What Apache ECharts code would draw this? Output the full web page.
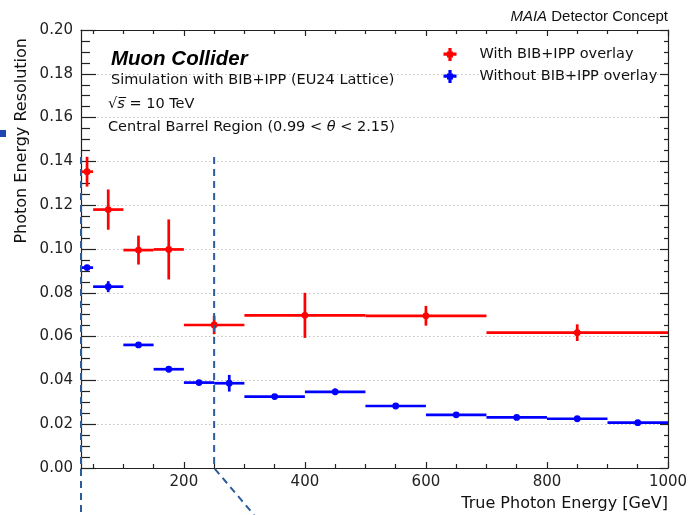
<!DOCTYPE html>
<html>
<head>
<meta charset="utf-8">
<script src="https://cdn.jsdelivr.net/npm/echarts@6/dist/echarts.min.js"></script>
<style>
  html, body { margin: 0; padding: 0; background: #fff; }
  #chart { width: 693px; height: 515px; }
</style>
</head>
<body>
<div id="chart"></div>
<script>
// Photon energy resolution vs. true photon energy, central barrel

// With BIB+IPP overlay (variable-width bins)
const withBinLo  = [30, 50, 100, 150, 200, 300, 500, 700];
const withBinHi  = [50, 100, 150, 200, 300, 500, 700, 1000];
const withCenter = [40, 75, 125, 175, 250, 400, 600, 850];
const withRes    = [0.1353, 0.1180, 0.0995, 0.0998, 0.0653, 0.0697, 0.0695, 0.0618];
const withErr    = [0.0068, 0.0092, 0.0066, 0.0137, 0.0042, 0.0103, 0.0045, 0.0038];

// Without BIB+IPP overlay
const noBinLo  = [30, 50, 100, 150, 200, 250, 300, 400, 500, 600, 700, 800, 900];
const noBinHi  = [50, 100, 150, 200, 250, 300, 400, 500, 600, 700, 800, 900, 1000];
const noCenter = [40, 75, 125, 175, 225, 275, 350, 450, 550, 650, 750, 850, 950];
const noRes    = [0.0915, 0.0828, 0.0562, 0.0451, 0.0390, 0.0387, 0.0326, 0.0348, 0.0283, 0.0243, 0.0231, 0.0225, 0.0207];
const noErr    = [0.0010, 0.0025, 0.0010, 0.0008, 0.0008, 0.0038, 0.0008, 0.0015, 0.0008, 0.0006, 0.0006, 0.0006, 0.0006];

// Axis ranges and tick values
const xRange = [30, 1000];
const yRange = [0, 0.20];
const yStep = 0.02;
const xMajorTicks = [200, 400, 600, 800, 1000];
const xMinorTicks = [50, 100, 150, 250, 300, 350, 450, 500, 550, 650, 700, 750, 850, 900, 950];

// Energy window highlighted by the dashed guides
const insetRange = [30, 250];
const insetTop = 0.142;

const seriesNames = ['With BIB+IPP overlay', 'Without BIB+IPP overlay'];

const FONT = 'DejaVu Sans';
const AXIS_COLOR = '#222';

function buildRows(center, res, lo, hi, err) {
  return center.map((c, i) => [c, res[i], lo[i], hi[i], err[i]]);
}

function errorBarItem(color) {
  return function (params, api) {
    const x = api.value(0), y = api.value(1);
    const lo = api.value(2), hi = api.value(3), e = api.value(4);
    const c = api.coord([x, y]);
    const pl = api.coord([lo, y]);
    const ph = api.coord([hi, y]);
    const pu = api.coord([x, y + e]);
    const pd = api.coord([x, y - e]);
    const ls = { stroke: color, lineWidth: 2.7 };
    return {
      type: 'group',
      children: [
        { type: 'line', shape: { x1: pl[0], y1: pl[1], x2: ph[0], y2: ph[1] }, style: ls },
        { type: 'line', shape: { x1: pu[0], y1: pu[1], x2: pd[0], y2: pd[1] }, style: ls },
        { type: 'circle', shape: { cx: c[0], cy: c[1], r: 3.4 }, style: { fill: color } }
      ]
    };
  };
}

function xAxisDef(position, ticks, len, showLine, showLabel) {
  return {
    type: 'value', position: position, min: xRange[0], max: xRange[1],
    axisLine: { show: showLine, onZero: false, lineStyle: { color: AXIS_COLOR, width: 1.2 } },
    axisTick: { show: true, inside: true, length: len, customValues: ticks,
                lineStyle: { color: AXIS_COLOR, width: 1.2 } },
    axisLabel: showLabel
      ? { show: true, customValues: ticks, fontFamily: FONT, fontSize: 15, color: AXIS_COLOR, margin: 7,
          formatter: v => String(v) }
      : { show: false },
    splitLine: { show: false }
  };
}

function yAxisDef(position, len, minorLen, showLabel, showGrid) {
  return {
    type: 'value', position: position, min: yRange[0], max: yRange[1], interval: yStep,
    axisLine: { show: true, onZero: false, lineStyle: { color: AXIS_COLOR, width: 1.2 } },
    axisTick: { show: true, inside: true, length: len, lineStyle: { color: AXIS_COLOR, width: 1.2 } },
    minorTick: { show: true, splitNumber: 4, length: minorLen, lineStyle: { color: AXIS_COLOR, width: 1.2 } },
    axisLabel: showLabel
      ? { show: true, fontFamily: FONT, fontSize: 15, color: AXIS_COLOR, margin: 8,
          formatter: v => v.toFixed(2) }
      : { show: false },
    splitLine: showGrid
      ? { show: true, lineStyle: { color: '#c4c4c4', width: 1, type: [1.5, 2.5] } }
      : { show: false },
    minorSplitLine: { show: false }
  };
}

const chart = echarts.init(document.getElementById('chart'), null, { renderer: 'canvas' });

const crossIcon = 'path://M0,4.6h13v3.2H0z M4.9,0h3.2v13H4.9z M3.5,3.5h6v6h-6z';

chart.setOption({
  animation: false,
  backgroundColor: '#fff',
  grid: { left: 81, right: 25, top: 30, bottom: 47, outerBoundsMode: 'none' },
  xAxis: [
    xAxisDef('bottom', xMajorTicks, 6, true, true),
    xAxisDef('bottom', xMinorTicks, 4, false, false),
    xAxisDef('top', xMajorTicks, 6, true, false),
    xAxisDef('top', xMinorTicks, 4, false, false)
  ],
  yAxis: [
    yAxisDef('left', 15, 9, true, true),
    yAxisDef('right', 8, 4, false, false)
  ],
  legend: {
    orient: 'vertical', left: 438.5, top: 41.5,
    itemWidth: 13, itemHeight: 13, itemGap: 6,
    selectedMode: false,
    textStyle: { fontFamily: FONT, fontSize: 14.5, color: '#111', lineHeight: 16, padding: [0, 0, 0, 18] },
    data: [
      { name: seriesNames[0], icon: crossIcon },
      { name: seriesNames[1], icon: crossIcon }
    ]
  },
  series: [
    {
      name: seriesNames[0], type: 'custom', xAxisIndex: 0, yAxisIndex: 0,
      itemStyle: { color: '#ff0000' },
      encode: { x: [0, 2, 3], y: [1] },
      renderItem: errorBarItem('#ff0000'),
      data: buildRows(withCenter, withRes, withBinLo, withBinHi, withErr),
      z: 3
    },
    {
      name: seriesNames[1], type: 'custom', xAxisIndex: 0, yAxisIndex: 0,
      itemStyle: { color: '#0000ff' },
      encode: { x: [0, 2, 3], y: [1] },
      renderItem: errorBarItem('#0000ff'),
      data: buildRows(noCenter, noRes, noBinLo, noBinHi, noErr),
      z: 3
    }
  ]
});

// Labels, titles and the dashed guides marking the low-energy window
const W = chart.getWidth(), H = chart.getHeight();
const leftTop = chart.convertToPixel({ xAxisIndex: 0, yAxisIndex: 0 }, [insetRange[0], insetTop]);
const leftBot = chart.convertToPixel({ xAxisIndex: 0, yAxisIndex: 0 }, [insetRange[0], yRange[0]]);
const rightTop = chart.convertToPixel({ xAxisIndex: 0, yAxisIndex: 0 }, [insetRange[1], insetTop]);
const rightBot = chart.convertToPixel({ xAxisIndex: 0, yAxisIndex: 0 }, [insetRange[1], yRange[0]]);
const plotRight = chart.convertToPixel({ xAxisIndex: 0 }, xRange[1]);
const plotTop = chart.convertToPixel({ yAxisIndex: 0 }, yRange[1]);
const plotLeft = chart.convertToPixel({ xAxisIndex: 0 }, xRange[0]);

const guideStyle = { stroke: '#2b5b9b', lineWidth: 2, lineDash: [7, 5], fill: null };

chart.setOption({
  graphic: [
    { type: 'line', z: 10, silent: true,
      shape: { x1: leftTop[0], y1: leftTop[1], x2: leftBot[0], y2: H }, style: guideStyle },
    { type: 'polyline', z: 10, silent: true,
      shape: { points: [[rightTop[0], rightTop[1]], [rightBot[0], rightBot[1]],
                        [rightBot[0] + (H - rightBot[1]) * 0.85, H]] },
      style: guideStyle },
    { type: 'rect', z: 10, silent: true, shape: { x: 0, y: 130, width: 6, height: 7 },
      style: { fill: '#1d45b3' } },
    { type: 'text', z: 20, x: plotLeft + 30, y: 59.5,
      style: { text: 'Muon Collider', font: 'italic bold 20.5px "Liberation Sans"', fill: '#000',
               verticalAlign: 'middle' } },
    { type: 'text', z: 20, x: plotLeft + 30, y: 80,
      style: { text: 'Simulation with BIB+IPP (EU24 Lattice)', font: '14.5px "DejaVu Sans"', fill: '#111',
               verticalAlign: 'middle' } },
    { type: 'text', z: 20, x: plotLeft + 27, y: 104,
      style: { text: '{r|√}{s|s\u0305}{n| = 10 TeV}', verticalAlign: 'middle',
               rich: {
                 r: { fontFamily: FONT, fontSize: 14.5, fill: '#111' },
                 s: { fontFamily: FONT, fontSize: 14.5, fontStyle: 'italic', fill: '#111' },
                 n: { fontFamily: FONT, fontSize: 14.5, fill: '#111' }
               } } },
    { type: 'text', z: 20, x: plotLeft + 27, y: 127,
      style: { text: '{a|Central Barrel Region (0.99 < }{i|θ}{a| < 2.15)}', verticalAlign: 'middle',
               rich: {
                 a: { fontFamily: FONT, fontSize: 14.5, fill: '#111' },
                 i: { fontFamily: FONT, fontSize: 14.5, fontStyle: 'italic', fill: '#111' }
               } } },
    { type: 'text', z: 20, x: plotRight, y: 16.5,
      style: { text: '{i|MAIA}{a| Detector Concept}', align: 'right', verticalAlign: 'middle',
               rich: {
                 i: { fontFamily: 'Liberation Sans', fontSize: 15, fontStyle: 'italic', fill: '#111' },
                 a: { fontFamily: 'Liberation Sans', fontSize: 15, fill: '#111' }
               } } },
    { type: 'text', z: 20, x: plotRight, y: 504,
      style: { text: 'True Photon Energy [GeV]', font: '16px "DejaVu Sans"', fill: '#111',
               align: 'right', verticalAlign: 'middle' } },
    { type: 'text', z: 20, x: 22, y: plotTop + 8, rotation: Math.PI / 2,
      style: { text: 'Photon Energy Resolution', font: '16px "DejaVu Sans"', fill: '#111',
               align: 'right', verticalAlign: 'middle' } }
  ]
});
</script>
</body>
</html>
